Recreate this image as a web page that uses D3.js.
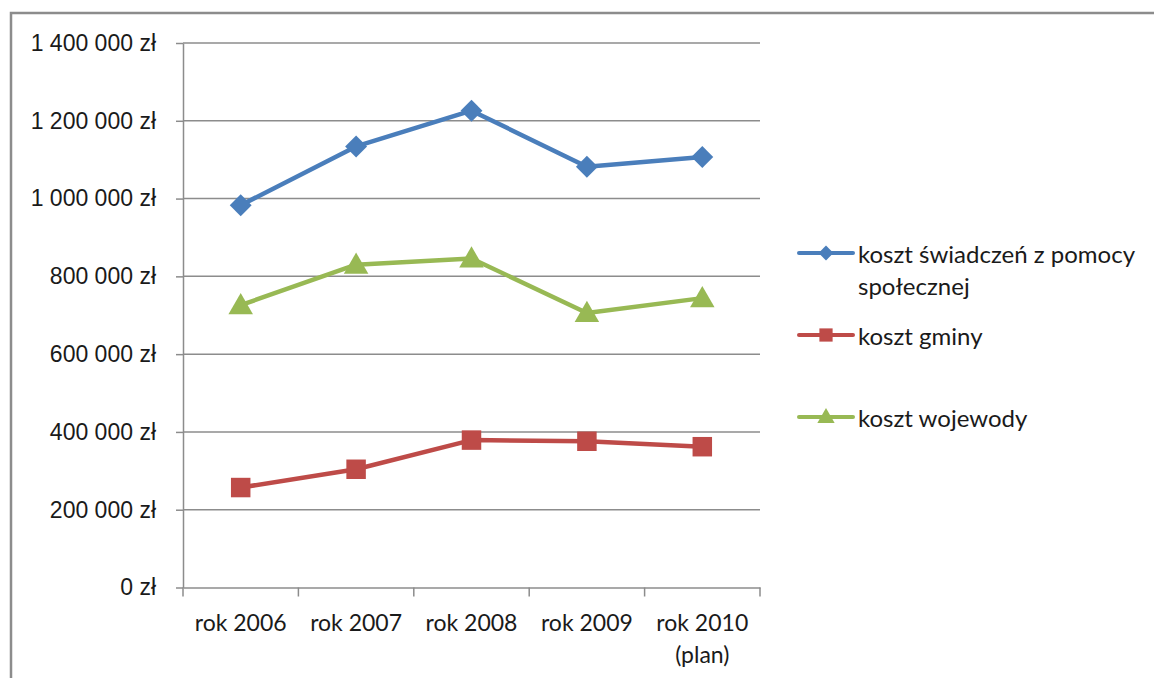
<!DOCTYPE html>
<html lang="pl">
<head>
<meta charset="UTF-8">
<title>Koszty</title>
<script src="https://d3js.org/d3.v7.min.js"></script>
<style>
    body { margin: 0; background: #fff; }
    svg { display: block; font-family: Lato, "Open Sans", sans-serif; }
    .lbl { font-size: 23px; fill: #1a1a1a; }
    .leg { font-size: 24px; fill: #1a1a1a; }
</style>
</head>
<body>
<svg width="1154" height="678"></svg>
<script>
    // data
    const categories = ["rok 2006", "rok 2007", "rok 2008", "rok 2009", "rok 2010\n(plan)"];
    const seriesNames = ["koszt świadczeń z pomocy\nspołecznej", "koszt gminy", "koszt wojewody"];
    const kosztSwiadczen = [983000, 1134000, 1226000, 1082000, 1107000];
    const kosztGminy = [257000, 304000, 379000, 376000, 362000];
    const kosztWojewody = [726000, 830000, 846000, 706000, 744000];
    const yTicks = [0, 200000, 400000, 600000, 800000, 1000000, 1200000, 1400000];

    const colors = ["#4a7ebb", "#be4b48", "#98b954"];
    const series = [kosztSwiadczen, kosztGminy, kosztWojewody];

    // diamond = square turned by 45 degrees
    const shapes = [d3.symbolSquare, d3.symbolSquare, d3.symbolTriangle];
    const rot = [45, 0, 0];

    const plot = {left: 183, right: 760, top: 43, bottom: 587.5};

    const svg = d3.select("svg");

    // outer frame (only top and left edge are visible)
    svg.append("path")
        .attr("d", "M11,678V13H1154")
        .attr("fill", "none")
        .attr("stroke", "#8c8c8c")
        .attr("stroke-width", 2.5);

    const x = d3.scaleBand()
        .domain(categories)
        .range([plot.left, plot.right]);

    const y = d3.scaleLinear()
        .domain([0, 1400000])
        .range([plot.bottom, plot.top]);

    const pl = d3.formatLocale({decimal: ",", thousands: "\u00a0", grouping: [3], currency: ["", "\u00a0zł"]});
    const fmt = pl.format("$,");

    // gridlines
    svg.append("g")
        .selectAll("line")
        .data(yTicks.filter(d => d > 0))
        .join("line")
        .attr("x1", plot.left)
        .attr("x2", plot.right)
        .attr("y1", d => y(d))
        .attr("y2", d => y(d))
        .attr("stroke", "#8c8c8c")
        .attr("stroke-width", 1.5);

    // y axis
    const yAxis = svg.append("g")
        .attr("transform", `translate(${plot.left},0)`)
        .call(d3.axisLeft(y).tickValues(yTicks).tickFormat(fmt).tickSize(7).tickPadding(20).tickSizeOuter(0));
    yAxis.select(".domain").attr("stroke", "#8c8c8c").attr("stroke-width", 1.5);
    yAxis.selectAll(".tick line").attr("stroke", "#8c8c8c").attr("stroke-width", 1.5);
    yAxis.selectAll(".tick text").attr("class", "lbl").attr("font-family", null).attr("font-size", null);

    // x axis
    const xAxis = svg.append("g")
        .attr("transform", `translate(0,${plot.bottom})`)
        .call(d3.axisBottom(x).tickSize(0).tickSizeOuter(0).tickPadding(0).tickFormat(""));
    xAxis.select(".domain").attr("stroke", "#8c8c8c").attr("stroke-width", 1.5);
    xAxis.selectAll(".tick").remove();

    const bounds = categories.map(c => x(c)).concat([x(categories[categories.length - 1]) + x.bandwidth()]);
    xAxis.selectAll("line.bound")
        .data(bounds)
        .join("line")
        .attr("class", "bound")
        .attr("x1", d => d).attr("x2", d => d)
        .attr("y1", 0).attr("y2", 9)
        .attr("stroke", "#8c8c8c")
        .attr("stroke-width", 1.5);

    const xl = svg.append("g")
        .selectAll("text")
        .data(categories)
        .join("text")
        .attr("class", "lbl")
        .attr("text-anchor", "middle")
        .attr("x", d => x(d) + x.bandwidth() / 2)
        .attr("y", 631);
    xl.selectAll("tspan")
        .data(d => d.split("\n").map(t => ({t, x: x(d) + x.bandwidth() / 2})))
        .join("tspan")
        .attr("x", d => d.x)
        .attr("dy", (d, i) => i ? 32 : 0)
        .text(d => d.t);

    // lines and markers
    const line = d3.line()
        .x((d, i) => x(categories[i]) + x.bandwidth() / 2)
        .y(d => y(d));

    const markerSize = [240, 380, 260];

    series.forEach((vals, s) => {
        svg.append("path")
            .datum(vals)
            .attr("d", line)
            .attr("fill", "none")
            .attr("stroke", colors[s])
            .attr("stroke-width", 4.5)
            .attr("stroke-linejoin", "round");

        svg.append("g")
            .selectAll("path")
            .data(vals)
            .join("path")
            .attr("transform", (d, i) =>
                `translate(${x(categories[i]) + x.bandwidth() / 2},${y(d) + (s === 2 ? 2 : 0)}) rotate(${rot[s]})`)
            .attr("d", d3.symbol(shapes[s], markerSize[s]))
            .attr("fill", colors[s]);
    });

    // legend
    const legendY = [253, 335, 417];
    const legendSize = [110, 175, 130];
    const legend = svg.append("g")
        .selectAll("g")
        .data(seriesNames)
        .join("g")
        .attr("transform", (d, i) => `translate(799,${legendY[i]})`);

    legend.append("line")
        .attr("x1", 0).attr("x2", 54)
        .attr("stroke", (d, i) => colors[i])
        .attr("stroke-width", 4)
        .attr("stroke-linecap", "round");

    legend.append("path")
        .attr("transform", (d, i) => `translate(27,${i === 2 ? 1 : 0}) rotate(${rot[i]})`)
        .attr("d", (d, i) => d3.symbol(shapes[i], legendSize[i])())
        .attr("fill", (d, i) => colors[i]);

    legend.append("text")
        .attr("class", "leg")
        .attr("y", 10)
        .selectAll("tspan")
        .data(d => d.split("\n"))
        .join("tspan")
        .attr("x", 59)
        .attr("dy", (d, i) => i ? 32 : 0)
        .text(d => d);
</script>
</body>
</html>
